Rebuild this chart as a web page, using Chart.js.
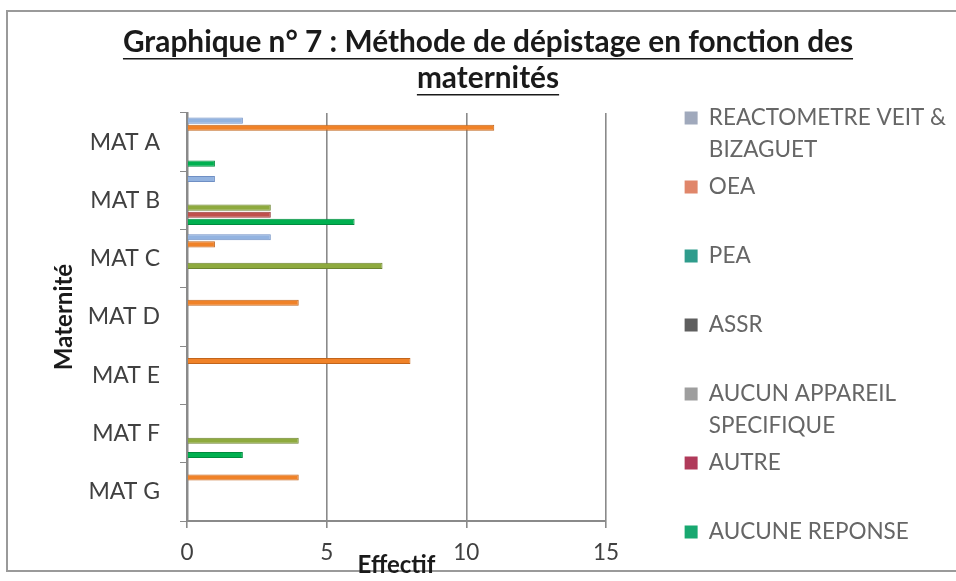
<!DOCTYPE html>
<html>
<head>
<meta charset="utf-8">
<script src="https://cdn.jsdelivr.net/npm/chart.js@4.4.1/dist/chart.umd.min.js"></script>
<style>
  html, body { margin: 0; padding: 0; background: #ffffff; }
  #wrap { position: relative; width: 956px; height: 581px; }
</style>
</head>
<body>
<div id="wrap"><canvas id="c" width="956" height="581"></canvas></div>
<script>
// ---- data ----
const titleLines = ['Graphique n° 7 : Méthode de dépistage en fonction des', 'maternités'];
const categories = ['MAT A', 'MAT B', 'MAT C', 'MAT D', 'MAT E', 'MAT F', 'MAT G'];
const seriesNames = ['REACTOMETRE VEIT & BIZAGUET', 'OEA', 'PEA', 'ASSR', 'AUCUN APPAREIL SPECIFIQUE', 'AUTRE', 'AUCUNE REPONSE'];
const legendLines = [
  ['REACTOMETRE VEIT &', 'BIZAGUET'],
  ['OEA', ''],
  ['PEA', ''],
  ['ASSR', ''],
  ['AUCUN APPAREIL', 'SPECIFIQUE'],
  ['AUTRE', ''],
  'AUCUNE REPONSE'
];
const reactometre = [2, 1, 3, 0, 0, 0, 0];
const oea         = [11, 0, 1, 4, 8, 0, 4];
const pea         = [0, 0, 0, 0, 0, 0, 0];
const assr        = [0, 0, 0, 0, 0, 0, 0];
const aucunApp    = [0, 3, 7, 0, 0, 4, 0];
const autre       = [0, 3, 0, 0, 0, 0, 0];
const aucuneRep   = [1, 6, 0, 0, 0, 2, 0];
const xTicks = [0, 5, 10, 15];
const xAxisTitle = 'Effectif';
const yAxisTitle = 'Maternité';

// ---- styles ----
const barFill   = ['#93B3E0', '#F08228', '#2FA597', '#5A5A5A', '#8EAA3E', '#C0504D', '#00B050'];
const barBorder = ['#6F8FC4', '#C2651C', '#23857A', '#404040', '#6C8430', '#983A37', '#008A3E'];
const swatch    = ['#A0A9BC', '#E0866A', '#2F9C8C', '#5E5E5E', '#9E9E9E', '#B03A5A', '#18A870'];
const allSeries = [reactometre, oea, pea, assr, aucunApp, autre, aucuneRep];

const FONT = 'Lato';
const W = 956, PLOT_LEFT = 187, PLOT_RIGHT = 606, PLOT_BOTTOM = 521, PAD_L = 20, PAD_B = 1, PAD_T = 6;

const frame = {
  id: 'frame',
  beforeDraw(chart) {
    const ctx = chart.ctx;
    ctx.save();
    ctx.fillStyle = '#ffffff';
    ctx.fillRect(0, 0, chart.width, chart.height);
    ctx.strokeStyle = '#9a9a9a';
    ctx.lineWidth = 2;
    ctx.strokeRect(7, 11, chart.width + 20, 560);
    ctx.restore();
  },
  afterDraw(chart) {
    // underline the title lines
    const tb = chart.titleBlock;
    if (!tb) return;
    const ctx = chart.ctx;
    const opts = tb.options;
    const size = opts.font.size;
    const lh = size * opts.font.lineHeight;
    ctx.save();
    ctx.font = 'bold ' + size + 'px ' + FONT;
    ctx.strokeStyle = '#1a1a1a';
    ctx.lineWidth = 1.6;
    const cx = (tb.left + tb.right) / 2;
    titleLines.forEach((t, i) => {
      const w = ctx.measureText(t).width;
      const y = tb.top + opts.padding.top + lh / 2 + i * lh + size * 0.56;
      ctx.beginPath();
      ctx.moveTo(cx - w / 2, y);
      ctx.lineTo(cx + w / 2, y);
      ctx.stroke();
    });
    ctx.restore();
  }
};

new Chart(document.getElementById('c'), {
  type: 'bar',
  data: {
    labels: categories,
    datasets: seriesNames.map((name, i) => ({
      label: name,
      data: allSeries[i],
      backgroundColor: barFill[i],
      borderColor: barBorder[i],
      borderWidth: 1,
      borderSkipped: 'start',
      categoryPercentage: 0.86,
      barPercentage: 0.85,
      xAxisID: 'x',
      yAxisID: 'y'
    }))
  },
  options: {
    indexAxis: 'y',
    responsive: false,
    animation: false,
    events: [],
    layout: { padding: { top: PAD_T, left: PAD_L, right: 0, bottom: PAD_B } },
    scales: {
      x: {
        type: 'linear',
        min: 0,
        max: 15,
        afterBuildTicks(scale) { scale.ticks = xTicks.map(v => ({ value: v })); },
        afterFit(scale) { scale.height = 581 - PAD_B - PLOT_BOTTOM; },
        ticks: { font: { family: FONT, size: 22.5 }, color: '#404040', padding: 11 },
        grid: { color: '#8a8a8a', lineWidth: 1.6, drawTicks: true, tickLength: 7, tickColor: '#8a8a8a' },
        border: { display: true, color: '#8a8a8a', width: 2 },
        title: { display: true, text: xAxisTitle, font: { family: FONT, size: 24, weight: 'bold' }, color: '#1a1a1a', padding: { top: 0, bottom: 0 } }
      },
      y: {
        type: 'category',
        position: 'left',
        afterFit(scale) { scale.width = PLOT_LEFT - PAD_L; },
        ticks: { font: { family: FONT, size: 23 }, color: '#404040', padding: 20 },
        grid: { display: true, drawOnChartArea: false, drawTicks: true, tickLength: 7, offset: true, tickColor: '#8a8a8a', color: '#8a8a8a' },
        border: { display: true, color: '#8a8a8a', width: 2.5 },
        title: { display: true, text: yAxisTitle, font: { family: FONT, size: 24, weight: 'bold' }, color: '#1a1a1a', padding: { top: 30, bottom: 0 } }
      },
      spacer: {
        type: 'linear',
        axis: 'y',
        position: 'right',
        display: true,
        afterFit(scale) { scale.width = Math.max(0, (W - PLOT_RIGHT) - (scale.chart.legend ? scale.chart.legend.width : 0)); },
        ticks: { display: false },
        grid: { display: false },
        border: { display: false }
      }
    },
    plugins: {
      title: {
        display: true,
        text: titleLines,
        color: '#1a1a1a',
        font: { family: FONT, size: 29.8, weight: 'bold', lineHeight: 36 / 29.8 },
        padding: { top: 18, bottom: 17 }
      },
      legend: {
        display: true,
        position: 'right',
        align: 'start',
        fullSize: true,
        maxWidth: 600,
        title: { display: true, text: '', font: { size: 1, lineHeight: 1 }, padding: { top: 0, bottom: 94.75 } },
        labels: {
          font: { family: FONT, size: 22.5, lineHeight: 32 / 22.5 },
          color: '#3a3a3a',
          boxWidth: 13,
          boxHeight: 13,
          padding: 5,
          generateLabels() {
            return legendLines.map((t, i) => ({
              text: t,
              fillStyle: swatch[i],
              strokeStyle: swatch[i],
              lineWidth: 0,
              hidden: false,
              datasetIndex: i
            }));
          }
        }
      },
      tooltip: { enabled: false }
    }
  },
  plugins: [frame]
});
</script>
</body>
</html>
